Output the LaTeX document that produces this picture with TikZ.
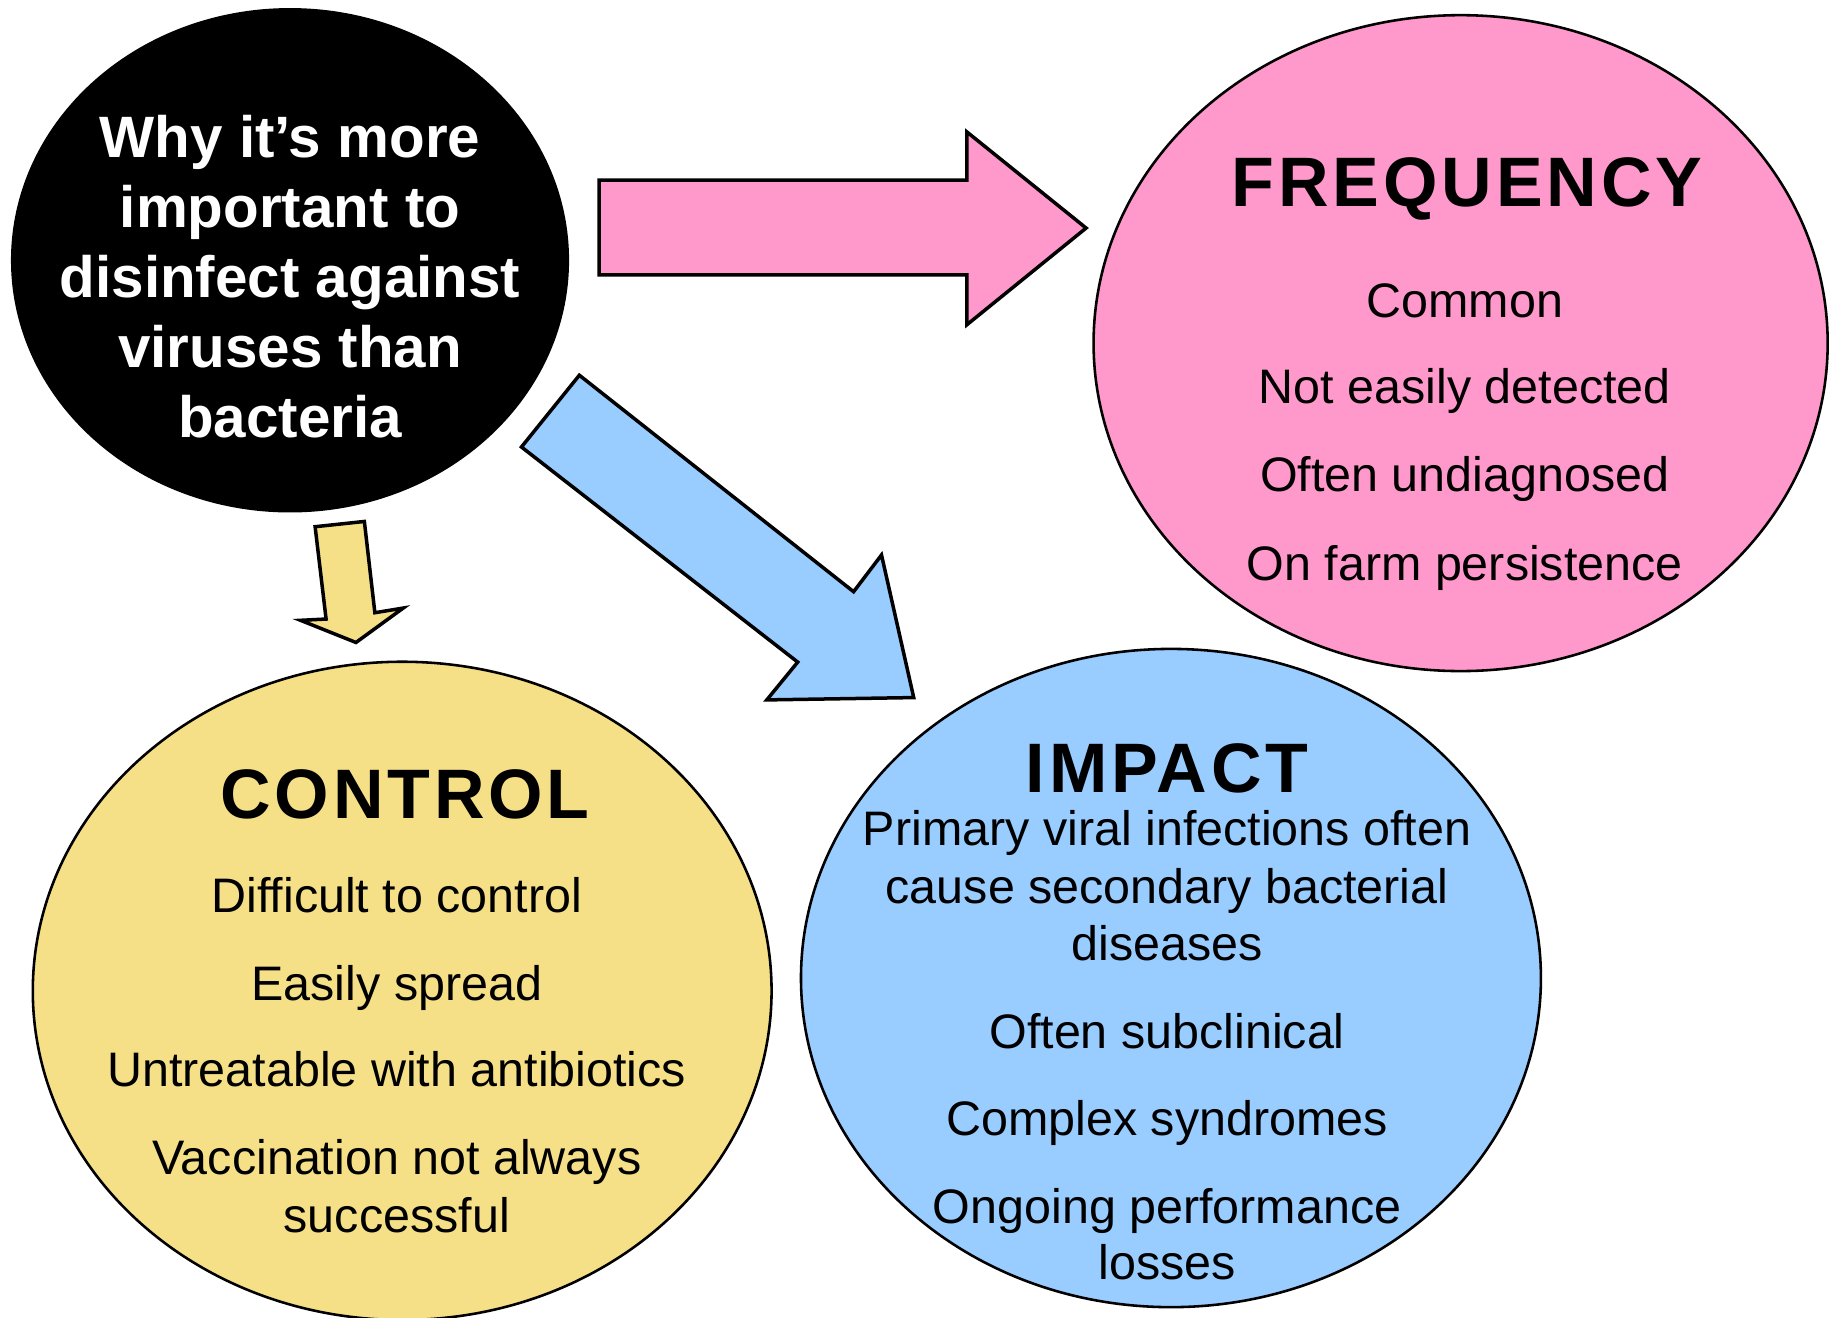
\documentclass[tikz,border=0pt]{standalone}
\usepackage{fontspec}
\setmainfont{Liberation Sans}
\newfontfamily\headfont[LetterSpace=5.5]{Liberation Sans}
\usetikzlibrary{shapes.geometric}
\definecolor{pinkfill}{RGB}{255,153,204}
\definecolor{bluefill}{RGB}{153,204,255}
\definecolor{yellowfill}{RGB}{245,223,135}
\begin{document}
\begin{tikzpicture}[x=1pt,y=-1pt,
  bubble/.style={ellipse, draw=black, line width=2.2pt, inner sep=0pt},
  blockarrow/.style={draw=black, line width=3pt, line join=miter},
  heading/.style={anchor=base, font=\headfont\bfseries\fontsize{60}{60}\selectfont, inner sep=0pt},
  item/.style={anchor=base, font=\fontsize{41.5}{50}\selectfont, inner sep=0pt},
  titleline/.style={anchor=base, text=white, font=\bfseries\fontsize{50}{60}\selectfont, inner sep=0pt}]
\useasboundingbox[fill=white] (0,0) rectangle (1568,1129);

% bubbles
\node[bubble, fill=black, minimum width=476pt, minimum height=430pt] (why) at (248.5,223) {};
\node[bubble, fill=pinkfill, minimum width=629pt, minimum height=562pt] (freq) at (1251.5,294) {};
\node[bubble, fill=yellowfill, minimum width=633pt, minimum height=564pt] (ctrl) at (344.6,849) {};
\node[bubble, fill=bluefill, minimum width=634pt, minimum height=564pt] (imp) at (1003.3,838) {};

% block arrows
\draw[blockarrow, fill=pinkfill] (513.4,154.3) -- (828.4,154.3) -- (828.4,113) -- (930.6,195.4) -- (828.4,278.3) -- (828.4,235.6) -- (513.4,235.6) -- cycle;
\draw[blockarrow, fill=yellowfill] (270,451.3) -- (312.2,446.8) -- (321.2,525) -- (345.5,521) -- (305,550.5) -- (257.5,531.5) -- (279.4,530.4) -- cycle;
\draw[blockarrow, fill=bluefill] (496.4,321.5) -- (731.4,507) -- (755.3,475.5) -- (782.9,597.7) -- (657,599.7) -- (683.5,567.3) -- (446.8,383) -- cycle;

% title
\node[titleline] (w1) at (248.5,134.6) {Why it’s more};
\node[titleline] (w2) at (248.5,195) {important to};
\node[titleline] (w3) at (248.5,255) {disinfect against};
\node[titleline] (w4) at (248.5,315) {viruses than};
\node[titleline] (w5) at (248.5,375) {bacteria};

% frequency
\node[heading] (fh) at (1257,177) {FREQUENCY};
\node[item] (f1) at (1255,272.4) {Common};
\node[item] (f2) at (1255,346) {Not easily detected};
\node[item] (f3) at (1255,421) {Often undiagnosed};
\node[item] (f4) at (1255,497) {On farm persistence};

% control
\node[heading] (ch) at (347,701) {CONTROL};
\node[item] (c1) at (340,781.5) {Difficult to control};
\node[item] (c2) at (340,857) {Easily spread};
\node[item] (c3) at (340,931) {Untreatable with antibiotics};
\node[item] (c4) at (340,1006.7) {Vaccination not always};
\node[item] (c5) at (340,1056) {successful};

% impact
\node[heading] (ih) at (1000,679) {IMPACT};
\node[item] (i1) at (1000,724.5) {Primary viral infections often};
\node[item] (i2) at (1000,773.8) {cause secondary bacterial};
\node[item] (i3) at (1000,822.7) {diseases};
\node[item] (i4) at (1000,898.6) {Often subclinical};
\node[item] (i5) at (1000,972.7) {Complex syndromes};
\node[item] (i6) at (1000,1048) {Ongoing performance};
\node[item] (i7) at (1000,1096) {losses};
\end{tikzpicture}
\end{document}
